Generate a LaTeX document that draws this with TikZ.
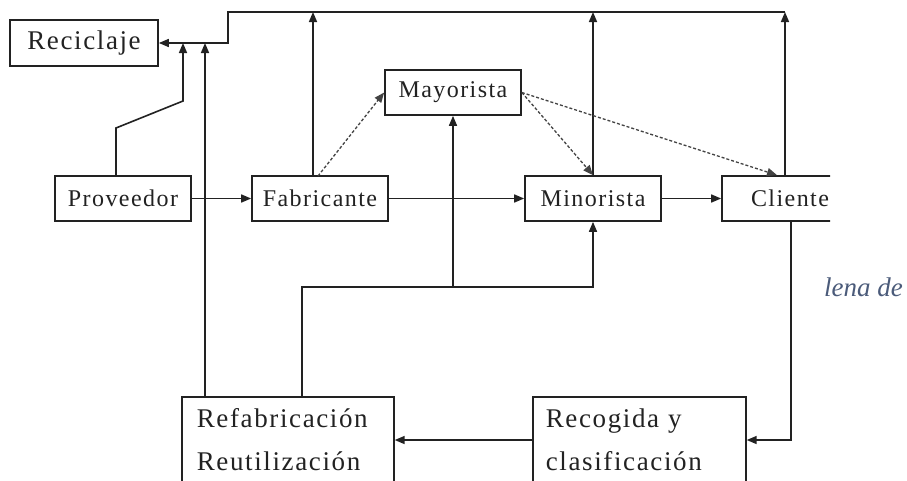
\documentclass[tikz,border=0pt]{standalone}
\usepackage{fontspec}
\setmainfont{Liberation Serif}
\newfontfamily\boxfont{Liberation Serif}[LetterSpace=6]
\usetikzlibrary{arrows.meta}
\definecolor{slate}{HTML}{4B5B7A}
\definecolor{ink}{HTML}{222222}

\begin{document}
\begin{tikzpicture}[x=1pt,y=-1pt,
  box/.style={draw=ink, line width=1.7pt, fill=white, inner sep=0pt,
    minimum width=136pt, minimum height=45pt, text=ink,
    font=\boxfont\fontsize{24}{28}\selectfont},
  bigbox/.style={draw=ink, line width=1.7pt, fill=white, anchor=north west,
    align=left, inner ysep=12pt, text=ink,
    font=\boxfont\fontsize{27}{43}\selectfont},
  wire/.style={draw=ink, line width=1.6pt},
  tip/.style={-{Triangle[length=10pt,width=8pt]}},
  hint/.style={draw=ink!85, line width=1.3pt, dash pattern=on 3pt off 2pt}]

\useasboundingbox (0,0) rectangle (907,480);
\fill[white] (0,0) rectangle (907,480);

\begin{scope}
\clip (0,0) rectangle (830,480);

% boxes
\node[box, minimum width=148pt, minimum height=46pt,
  font=\boxfont\fontsize{27}{30}\selectfont] (rec) at (84,43) {Reciclaje};
\node[box] (prov) at (123,198.5) {Proveedor};
\node[box] (fab)  at (320,198.5) {Fabricante};
\node[box] (may)  at (453,92.5)  {Mayorista};
\node[box] (min)  at (593,198.5) {Minorista};
\node[box] (cli)  at (790,198.5) {Cliente};
\node[bigbox, inner xsep=15pt, text width=182pt] (refab) at (181,396)
  {Refabricación\\Reutilización};
\node[bigbox, inner xsep=13pt, text width=187pt] (recog) at (532,396)
  {Recogida y\\clasificación};

% routing points
\coordinate (tl) at (228,12);
\coordinate (tr) at (785,12);
\coordinate (fabup) at (313,12);
\coordinate (p1) at (116,128);
\coordinate (p2) at (183,101);
\coordinate (j2) at (205,44);
\coordinate (k) at (302,287);
\coordinate (c1) at (791,440);
\coordinate (fabd) at (318,176);
\coordinate (cd) at (777,0);

% return line to recycling
\draw[wire, tip] (tr) -- (tl) -- (tl |- rec.east) -- (rec.east);
\draw[wire, tip] (fab.north -| fabup) -- (fabup);
\draw[wire, tip] (min.north) -- (min.north |- tl);
\draw[wire, tip] (cli.north -| tr) -- (tr);
\draw[wire, tip] (prov.north -| p1) -- (p1) -- (p2) -- (p2 |- rec.east);
\draw[wire, tip] (refab.north -| j2) -- (j2 |- rec.east);

% forward flow
\draw[wire, tip] (prov.east) -- (fab.west);
\draw[wire, tip] (fab.east) -- (min.west);
\draw[wire, tip] (min.east) -- (cli.west);

% reverse flow
\draw[wire, tip] (cli.south -| c1) -- (c1) -- (c1 -| recog.east);
\draw[wire, tip] (recog.west |- c1) -- (refab.east |- c1);
\draw[wire, tip] (refab.north -| k) -- (k) -- (k -| min.south) -- (min.south);
\draw[wire, tip] (k -| may.south) -- (may.south);

% wholesaler links
\draw[hint, tip] (fabd) -- (may.west);
\draw[hint, tip] (may.east) -- (min.north);
\draw[hint, tip] (may.east) -- (cli.north -| cd);
\end{scope}

\node[anchor=base west, inner sep=0pt, text=slate,
  font=\itshape\fontsize{27}{32}\selectfont] (cap) at (824,296) {lena de};
\end{tikzpicture}
\end{document}
